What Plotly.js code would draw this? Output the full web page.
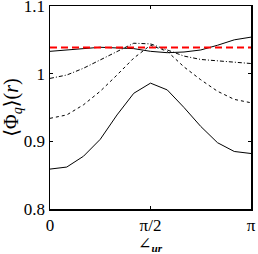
<!DOCTYPE html>
<html>
<head>
<meta charset="utf-8">
<script src="https://cdn.plot.ly/plotly-3.0.1.min.js"></script>
<style>html,body{margin:0;padding:0;background:#fff;}#chart{width:258px;height:254px;}</style>
</head>
<body>
<div id="chart"></div>
<script>
const N = 13;
const angleSteps = [0,1,2,3,4,5,6,7,8,9,10,11,12];
const tickVals = [0, Math.PI/2, Math.PI];
const tickText = ["0", "π/2", "π"];
const yTickVals = [0.8, 0.9, 1.0, 1.1];
const yTickText = ["0.8", "0.9", "1", "1.1"];

const solidLow   = [0.859,0.862,0.878,0.903,0.939,0.971,0.986,0.976,0.950,0.922,0.898,0.885,0.882];
const dashed     = [0.934,0.939,0.954,0.974,0.998,1.023,1.042,1.033,1.010,0.991,0.974,0.962,0.957];
const dashDot    = [0.993,0.998,1.008,1.020,1.033,1.045,1.044,1.035,1.026,1.021,1.019,1.016,1.015];
const solidHigh  = [1.033,1.035,1.038,1.039,1.038,1.037,1.033,1.031,1.032,1.035,1.042,1.050,1.054];
const reference  = [1.0385,1.0385];

const xs = angleSteps.map(i => i * Math.PI / (N - 1));
const xRef = [0, Math.PI];

const traces = [
  {x: xs, y: solidLow, mode: 'lines', line: {color: '#000', width: 1}},
  {x: xs, y: dashed, mode: 'lines', line: {color: '#000', width: 1, dash: '3px,3px'}},
  {x: xs, y: dashDot, mode: 'lines', line: {color: '#000', width: 1, dash: '4px,2px,1px,2px'}},
  {x: xs, y: solidHigh, mode: 'lines', line: {color: '#000', width: 1}},
  {x: xRef, y: reference, mode: 'lines', line: {color: '#ff0000', width: 2, dash: '7px,4px'}}
];

const FAM = 'Times New Roman, Liberation Serif, DejaVu Serif, serif';

const layout = {
  width: 258, height: 254,
  margin: {l: 50, r: 7, t: 6, b: 45},
  paper_bgcolor: '#fff', plot_bgcolor: '#fff',
  showlegend: false,
  font: {family: FAM, size: 17, color: '#000'},
  xaxis: {
    range: [0, Math.PI], tickvals: tickVals, ticktext: tickText,
    ticks: 'inside', ticklen: 3, tickcolor: '#000', showgrid: false, zeroline: false,
    showline: true, linecolor: '#000', linewidth: 1.5, mirror: 'ticks',
    tickfont: {family: FAM, size: 17, color: '#000'}, ticklabeloverflow: 'allow'
  },
  yaxis: {
    range: [0.8, 1.1], tickvals: yTickVals, ticktext: yTickText,
    ticks: 'inside', ticklen: 3, tickcolor: '#000', showgrid: false, zeroline: false,
    showline: true, linecolor: '#000', linewidth: 1.5, mirror: 'ticks',
    tickfont: {family: FAM, size: 17, color: '#000'}, ticklabeloverflow: 'allow',
    title: {text: '⟨Φ<sub><i>q</i></sub>⟩(<i>r</i>)', font: {family: FAM, size: 20, color: '#000'}, standoff: 2}
  },
  annotations: [{
    xref: 'paper', yref: 'paper', x: 0.5, y: -0.117, xanchor: 'center', yanchor: 'top',
    showarrow: false, text: '∠<sub><b><i>ur</i></b></sub>',
    font: {family: FAM, size: 16, color: '#000'}
  }]
};

Plotly.newPlot('chart', traces, layout, {displayModeBar: false, staticPlot: true});
</script>
</body>
</html>
